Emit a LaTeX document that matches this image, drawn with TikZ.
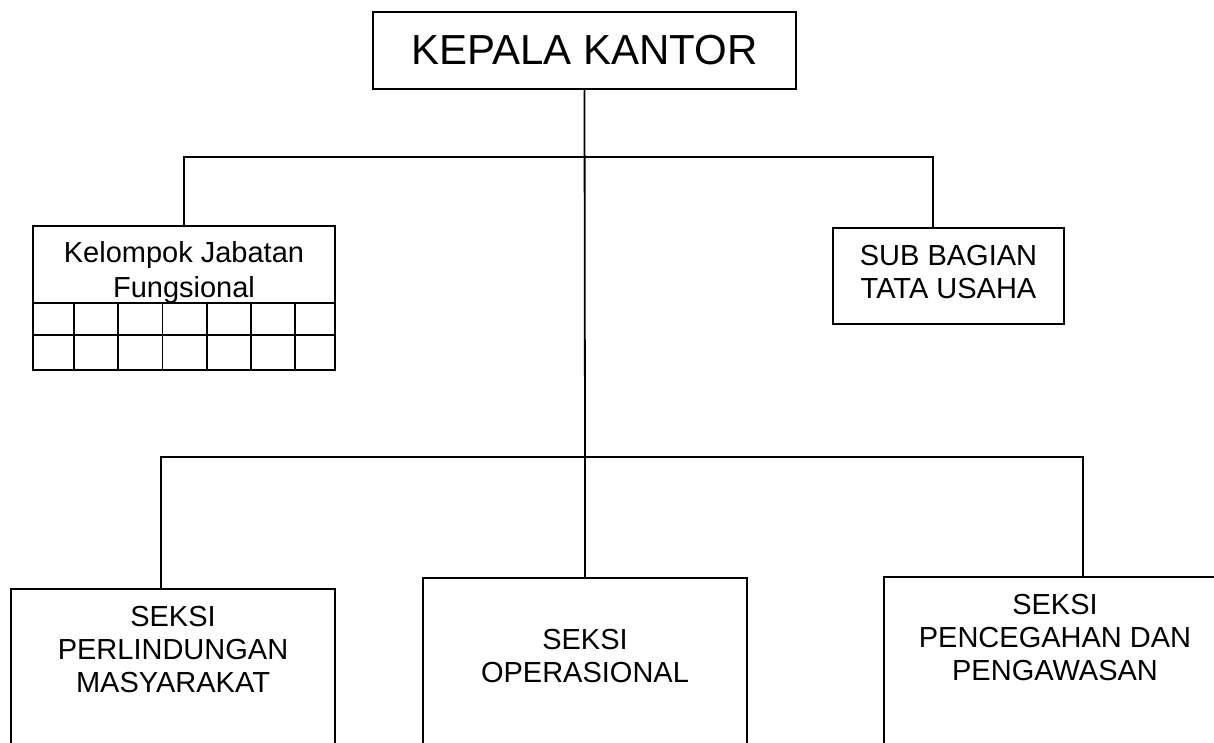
\documentclass[tikz,border=0pt]{standalone}
\usepackage{fontspec}
\setmainfont{Liberation Sans}
\begin{document}
\begin{tikzpicture}[x=1pt,y=-1pt,
  box/.style={draw, rectangle, inner sep=0pt, outer sep=0pt, line width=1.8pt},
  lbl/.style={align=center, inner sep=0pt, outer sep=0pt, font=\fontsize{29}{33}\selectfont},
  conn/.style={draw, line width=1.8pt}]
\path[use as bounding box] (0,0) rectangle (1214,742);
\clip (0,0) rectangle (1214,742);
\fill[white] (0,0) rectangle (1214,742);
% top
\node[box, minimum width=423pt, minimum height=77pt, anchor=north west,
      font=\fontsize{42}{48}\selectfont] (kk) at (373,12) {KEPALA KANTOR};
% functional group
\node[box, minimum width=302pt, minimum height=144pt, anchor=north west] (kjf) at (33,226) {};
\node[lbl, anchor=north, font=\fontsize{29}{35}\selectfont] (kjft) at (184,241) {Kelompok Jabatan\\Fungsional};
\draw[line width=1.8pt] ([yshift=67pt]kjf.south west) -- ([yshift=67pt]kjf.south east);
\draw[line width=1.8pt] ([yshift=35pt]kjf.south west) -- ([yshift=35pt]kjf.south east);
\foreach \dx in {41,85.2,129.4,173.6,217.8,262}
  \draw[line width=1.8pt] ([xshift=\dx pt]kjf.south west) -- ([xshift=\dx pt, yshift=67pt]kjf.south west);
% sub bagian
\node[box, minimum width=231pt, minimum height=96pt, anchor=north west] (sbtu) at (833,228) {};
\node[lbl, anchor=north] (sbtut) at (948.5,245) {SUB BAGIAN\\TATA USAHA};
% seksi boxes
\node[box, minimum width=324pt, minimum height=200pt, anchor=north west] (s1) at (11,589) {};
\node[lbl, anchor=north] (s1t) at (173,606) {SEKSI\\PERLINDUNGAN\\MASYARAKAT};
\node[box, minimum width=324pt, minimum height=200pt, anchor=north west] (s2) at (423,578) {};
\node[lbl, anchor=north] (s2t) at (585,629) {SEKSI\\OPERASIONAL};
\node[box, minimum width=346pt, minimum height=200pt, anchor=north west] (s3) at (884,577) {};
\node[lbl, anchor=north] (s3t) at (1055,594) {SEKSI\\PENCEGAHAN DAN\\PENGAWASAN};
% connectors
\coordinate (tj) at (585,157);
\coordinate (bj) at (585,457);
\draw[conn] (kk.south) -- (bj);
\draw[conn] (kjf.north) |- (tj) -| ([xshift=-15.5pt]sbtu.north);
\draw[conn] ([xshift=-12pt]s1.north) |- (bj) -| ([xshift=26pt]s3.north);
\draw[conn] (bj) -- (s2.north);
\end{tikzpicture}
\end{document}
